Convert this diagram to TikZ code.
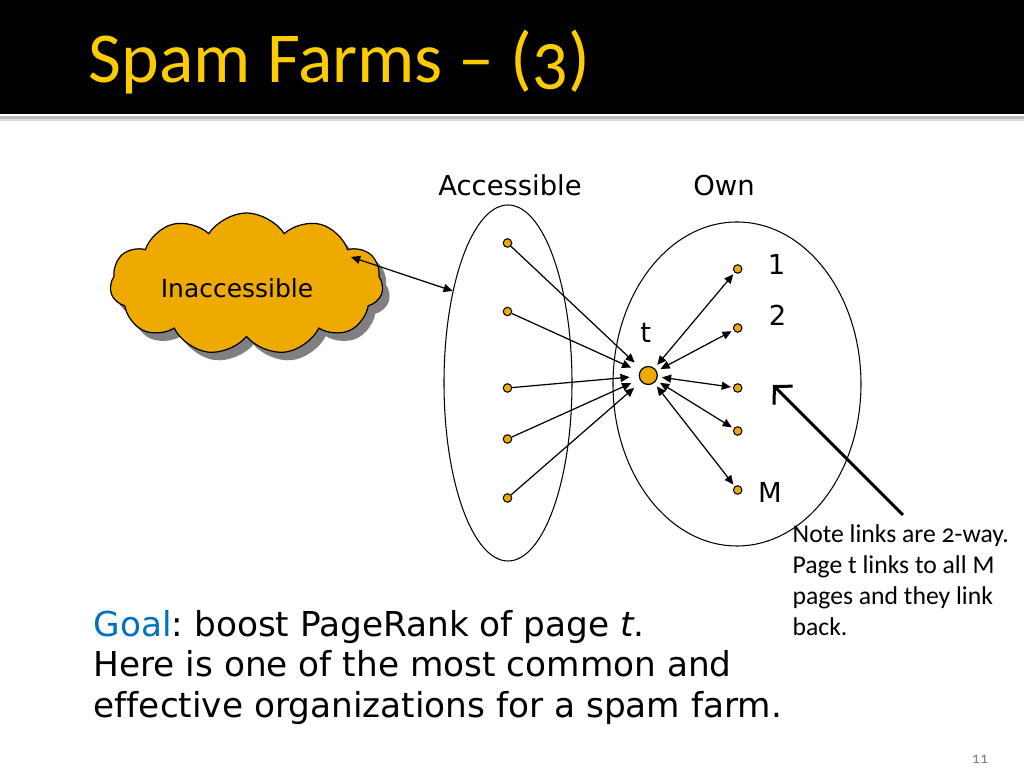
\documentclass[tikz,border=0pt]{standalone}
\usepackage{fontspec}
\setmainfont{DejaVu Sans}[Ligatures=NoCommon]
\newfontfamily\calfont{Carlito}[Numbers=OldStyle]
\usetikzlibrary{shapes.symbols,shapes.geometric,shadows,arrows.meta}
\definecolor{titleyellow}{RGB}{252,204,0}
\definecolor{nodeorange}{RGB}{238,170,0}
\definecolor{goalblue}{RGB}{0,112,192}
\definecolor{shadowgray}{RGB}{128,128,128}
\frenchspacing
\tikzset{
  link/.style={line width=0.35pt, -{Triangle[length=2.6pt,width=2.3pt]}, shorten >=2.6pt},
  twoway/.style={line width=0.35pt, {Triangle[length=2.6pt,width=2.3pt]}-{Triangle[length=2.6pt,width=2.3pt]}, shorten <=1.2pt, shorten >=0.6pt},
  page/.style={circle, draw, line width=0.3pt, fill=nodeorange, minimum size=0.085cm, inner sep=0pt},
  target/.style={circle, draw, line width=0.35pt, fill=nodeorange, minimum size=0.18cm, inner sep=0pt},
  region/.style={ellipse, draw, line width=0.3pt, inner sep=0pt},
  lab/.style={font=\fontsize{7.8pt}{9pt}\selectfont, inner sep=0pt},
}
\begin{document}
\begin{tikzpicture}
\useasboundingbox (0,0) rectangle (10.24,7.68);
% title bar
\fill[black] (0,7.68) rectangle (10.24,6.54);
\fill[gray!55] (0,6.52) rectangle (10.24,6.49);
\fill[gray!28] (0,6.49) rectangle (10.24,6.47);
\node[anchor=base west, inner sep=0pt, text=titleyellow, font=\calfont\fontsize{20.4pt}{24pt}\selectfont] (title) at (0.88,6.85) {Spam Farms – (3)};

% regions
\node[region, minimum width=1.28cm, minimum height=3.56cm] (acc) at (5.08,3.85) {};
\node[region, minimum width=2.48cm, minimum height=3.24cm] (own) at (7.37,3.84) {};
\node[lab, anchor=base] (acclab) at (5.10,5.72) {Accessible};
\node[lab, anchor=base] (ownlab) at (7.24,5.72) {Own};

% cloud
\node[cloud, cloud puffs=11, cloud puff arc=115, aspect=1.9, draw, line width=0.35pt, fill=nodeorange,
      minimum width=2.73cm, minimum height=1.42cm,
      drop shadow={shadow xshift=0.07cm, shadow yshift=-0.08cm, fill=shadowgray, opacity=1}] (cloud) at (2.465,4.84) {};
\node[lab, font=\fontsize{7.1pt}{9pt}\selectfont] (inacc) at (2.37,4.80) {Inaccessible};
\coordinate (cloudend) at (3.51,5.11);
\draw[twoway, shorten <=0pt, shorten >=0pt] (cloudend) -- (acc.121);

% accessible pages
\node[page] (a1) at (5.075,5.25) {};
\node[page] (a2) at (5.075,4.565) {};
\node[page] (a3) at (5.075,3.80) {};
\node[page] (a4) at (5.075,3.29) {};
\node[page] (a5) at (5.075,2.70) {};
% target
\node[target] (t) at (6.483,3.925) {};
\node[lab] (tlab) at (6.457,4.35) {t};
% own pages
\node[page] (o1) at (7.377,4.99) {};
\node[page] (o2) at (7.377,4.40) {};
\node[page] (o3) at (7.377,3.80) {};
\node[page] (o4) at (7.377,3.37) {};
\node[page] (o5) at (7.377,2.78) {};
\node[lab] (l1) at (7.767,5.03) {1};
\node[lab] (l2) at (7.777,4.53) {2};
\node[lab] (lM) at (7.70,2.75) {M};

\foreach \i in {1,...,5} {\draw[link] (a\i) -- (t);}
\foreach \i in {1,...,5} {\draw[twoway] (t) -- (o\i);}

% note
\coordinate (notetail) at (9.03,2.53);
\coordinate (notetip) at (7.73,3.83);
\draw[line width=0.85pt, -{Straight Barb[length=3.6pt,width=7.5pt]}] (notetail) -- (notetip);
\node[anchor=north west, align=left, inner sep=0pt, font=\calfont\fontsize{7.3pt}{8.8pt}\selectfont] (note) at (7.92,2.44)
  {Note links are 2-way.\\Page t links to all M\\pages and they link\\back.};

% goal
\node[anchor=north west, align=left, inner sep=0pt, font=\fontsize{9.76pt}{11.5pt}\selectfont] (goal) at (0.93,1.585)
  {\textcolor{goalblue}{Goal}: boost PageRank of page \textit{t}.\\Here is one of the most common and\\effective organizations for a spam farm.};

% page number
\node[inner sep=0pt, text=gray, font=\calfont\fontsize{4.5pt}{5pt}\selectfont] (pagenum) at (9.80,0.09) {11};
\end{tikzpicture}
\end{document}
